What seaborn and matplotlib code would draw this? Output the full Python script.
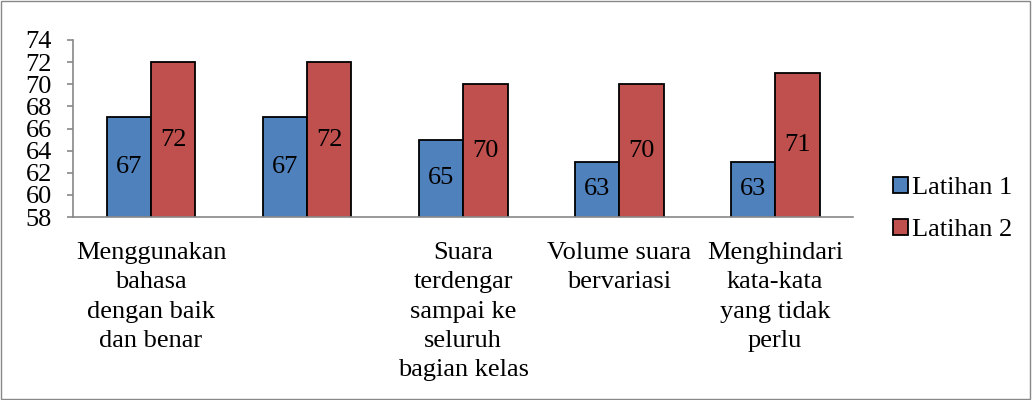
import matplotlib
matplotlib.use('Agg')
import matplotlib.pyplot as plt
import seaborn as sns
import pandas as pd
from matplotlib.patches import Rectangle

# === 1. Data ===
categories = [
    'Menggunakan\nbahasa\ndengan baik\ndan benar',
    '',
    'Suara\nterdengar\nsampai ke\nseluruh\nbagian kelas',
    'Volume suara\nbervariasi',
    'Menghindari\nkata-kata\nyang tidak\nperlu',
]
latihan_1 = [67, 67, 65, 63, 63]
latihan_2 = [72, 72, 70, 70, 71]
series_names = ['Latihan 1', 'Latihan 2']
yticks = [58, 60, 62, 64, 66, 68, 70, 72, 74]

df = pd.DataFrame({'Kategori': list(range(len(categories))) * 2,
                   'Nilai': latihan_1 + latihan_2,
                   'Seri': [series_names[0]] * 5 + [series_names[1]] * 5})

# === 2. Style ===
sns.set_style('white')
plt.rcParams['font.family'] = ['Liberation Serif', 'DejaVu Serif']
plt.rcParams['font.size'] = 19
plt.rcParams['text.color'] = 'black'
plt.rcParams['xtick.labelcolor'] = 'black'
plt.rcParams['ytick.labelcolor'] = 'black'

fig = plt.figure(figsize=(10.32, 4), dpi=100)
ax = fig.add_axes([0.0707, 0.4575, 0.756, 0.4425])

sns.barplot(data=df, x='Kategori', y='Nilai', hue='Seri', ax=ax,
            palette=['#4F81BD', '#C0504D'], width=0.57, gap=0,
            edgecolor='black', linewidth=1.3, saturation=1)

# === 3. Axes ===
ax.set_ylim(58, 74)
ax.set_yticks(yticks)
ax.set_xlim(-0.5, len(categories) - 0.5)
ax.set_xticks(range(len(categories)))
ax.set_xticklabels(categories, linespacing=1.43)
ax.set_xticks([i - 0.5 for i in range(len(categories) + 1)], minor=True)
ax.tick_params(axis='x', which='major', length=0, pad=18, labelsize=19, labelcolor='black')
ax.tick_params(axis='x', which='minor', length=4.3, color='#888888', width=1.2, direction='out')
ax.tick_params(axis='y', length=4.3, color='#888888', width=1.2, direction='out',
               left=True, pad=10.8, labelsize=19, labelcolor='black')
ax.set_xlabel('')
ax.set_ylabel('')
for s in ['top', 'right']:
    ax.spines[s].set_visible(False)
for s in ['left', 'bottom']:
    ax.spines[s].set_color('#888888')
    ax.spines[s].set_linewidth(1.2)

# === 4. Value labels ===
for cont in ax.containers:
    ax.bar_label(cont, label_type='center', fontsize=19, color='black')

# === 5. Legend ===
handles, labels = ax.get_legend_handles_labels()
leg = ax.legend(handles, labels, loc='center left', bbox_to_anchor=(1.021, 0.045),
                frameon=False, fontsize=19, handlelength=0.55, handleheight=0.55,
                handletextpad=0.15, labelspacing=0.75)
for t in leg.get_texts():
    t.set_color('black')

# === 6. Outer border ===
fig.patches.append(Rectangle((0.001, 0.002), 0.997, 0.995, transform=fig.transFigure,
                             fill=False, edgecolor='#888888', linewidth=1))

plt.savefig('out.png', dpi=100)
